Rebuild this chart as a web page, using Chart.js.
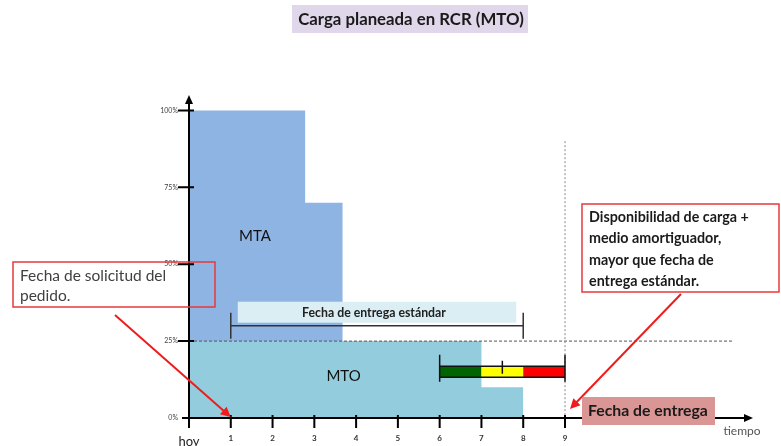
<!DOCTYPE html>
<html>
<head>
<meta charset="utf-8">
<script src="https://cdn.jsdelivr.net/npm/chart.js@4.4.1/dist/chart.umd.min.js"></script>
<style>
html,body{margin:0;padding:0;background:#ffffff;}
#wrap{width:781px;height:446px;position:relative;}
</style>
</head>
<body>
<div id="wrap"><canvas id="c" width="781" height="446"></canvas></div>
<script>
// ---- data ----
const mtaTime = [0, 2.78, 2.78, 3.68];
const mtaLoad = [100, 100, 70, 70];
const mtoTime = [0, 7, 7, 8];
const mtoLoad = [25, 25, 10, 10];
const mtoCeiling = 25;
const bufferZones = [6, 7, 8, 9];
const bufferColors = ['#006400', '#FFFF00', '#FF0000'];
const bufferMark = 7.5;
const bufferLevel = 15;
const standardLead = [1, 8];
const standardLevel = 30;
const dueDate = 9;
const xTickValues = [0, 1, 2, 3, 4, 5, 6, 7, 8, 9];
const xTickLabels = ['hoy', '1', '2', '3', '4', '5', '6', '7', '8', '9'];
const yTickValues = [0, 25, 50, 75, 100];
const yTickLabels = ['0%', '25%', '50%', '75%', '100%'];

const titleText = 'Carga planeada en RCR (MTO)';
const requestText = ['Fecha de solicitud del', 'pedido.'];
const bufferText = ['Disponibilidad de carga +', 'medio amortiguador,', 'mayor que fecha de', 'entrega estándar.'];
const dueText = 'Fecha de entrega';
const standardText = 'Fecha de entrega estándar';

const FONT = 'Lato, "Open Sans", sans-serif';

function arrow(ctx, x1, y1, x2, y2, color, w, head) {
  const a = Math.atan2(y2 - y1, x2 - x1);
  ctx.save();
  ctx.strokeStyle = color; ctx.fillStyle = color; ctx.lineWidth = w;
  ctx.beginPath(); ctx.moveTo(x1, y1);
  ctx.lineTo(x2 - Math.cos(a) * head * 0.8, y2 - Math.sin(a) * head * 0.8); ctx.stroke();
  ctx.beginPath();
  ctx.moveTo(x2, y2);
  ctx.lineTo(x2 - head * Math.cos(a) + head * 0.5 * Math.sin(a), y2 - head * Math.sin(a) - head * 0.5 * Math.cos(a));
  ctx.lineTo(x2 - head * Math.cos(a) - head * 0.5 * Math.sin(a), y2 - head * Math.sin(a) + head * 0.5 * Math.cos(a));
  ctx.closePath(); ctx.fill();
  ctx.restore();
}

const overlay = {
  id: 'overlay',
  afterDatasetsDraw(chart) {
    const ctx = chart.ctx;
    const xs = chart.scales.x, ys = chart.scales.y;
    const area = chart.chartArea;
    const X = v => xs.getPixelForValue(v);
    const Y = v => ys.getPixelForValue(v);
    ctx.save();

    // dashed 25% line
    ctx.strokeStyle = '#555'; ctx.lineWidth = 1; ctx.setLineDash([3, 2]);
    ctx.beginPath(); ctx.moveTo(area.left, Y(mtoCeiling)); ctx.lineTo(X(13), Y(mtoCeiling)); ctx.stroke();
    // due date dotted vertical
    ctx.strokeStyle = '#888'; ctx.setLineDash([2, 2]);
    ctx.beginPath(); ctx.moveTo(X(dueDate), Y(90)); ctx.lineTo(X(dueDate), Y(0)); ctx.stroke();
    ctx.setLineDash([]);

    // labels MTA / MTO
    ctx.fillStyle = '#111'; ctx.font = '15px ' + FONT; ctx.textAlign = 'center'; ctx.textBaseline = 'middle';
    ctx.fillText('MTA', X(1.58), Y(59));
    ctx.fillText('MTO', X(3.7), Y(13.5));

    // standard lead time bracket
    const by = Y(standardLevel);
    const bx1 = X(standardLead[0]), bx2 = X(standardLead[1]);
    ctx.fillStyle = '#DBEEF4';
    ctx.fillRect(bx1 + 7, by - 24, bx2 - bx1 - 14, 21);
    ctx.strokeStyle = '#333'; ctx.lineWidth = 1.5;
    ctx.beginPath();
    ctx.moveTo(bx1, by); ctx.lineTo(bx2, by);
    ctx.moveTo(bx1, by - 13); ctx.lineTo(bx1, by + 13);
    ctx.moveTo(bx2, by - 13); ctx.lineTo(bx2, by + 13);
    ctx.stroke();
    ctx.fillStyle = '#222'; ctx.font = 'bold 12.3px ' + FONT;
    ctx.fillText(standardText, (bx1 + bx2) / 2 - 3, by - 13);

    // buffer bar
    const cy = Y(bufferLevel);
    for (let i = 0; i < bufferColors.length; i++) {
      ctx.fillStyle = bufferColors[i];
      ctx.fillRect(X(bufferZones[i]), cy - 5.5, X(bufferZones[i + 1]) - X(bufferZones[i]), 11);
    }
    ctx.strokeStyle = '#111'; ctx.lineWidth = 1.5;
    ctx.beginPath();
    ctx.moveTo(X(bufferZones[0]), cy - 5.5); ctx.lineTo(X(bufferZones[3]), cy - 5.5);
    ctx.moveTo(X(bufferZones[0]), cy + 5.5); ctx.lineTo(X(bufferZones[3]), cy + 5.5);
    ctx.moveTo(X(bufferZones[0]), cy - 17); ctx.lineTo(X(bufferZones[0]), cy + 10);
    ctx.moveTo(X(bufferZones[3]), cy - 17); ctx.lineTo(X(bufferZones[3]), cy + 10);
    ctx.moveTo(X(bufferMark), cy - 11); ctx.lineTo(X(bufferMark), cy + 2);
    ctx.stroke();

    ctx.restore();
  },
  afterDraw(chart) {
    const ctx = chart.ctx;
    const xs = chart.scales.x, ys = chart.scales.y;
    const area = chart.chartArea;
    const X = v => xs.getPixelForValue(v);
    const Y = v => ys.getPixelForValue(v);
    ctx.save();
    // axes
    ctx.strokeStyle = '#000'; ctx.fillStyle = '#000'; ctx.lineWidth = 2;
    ctx.beginPath();
    ctx.moveTo(area.left, Y(0) + 10); ctx.lineTo(area.left, area.top + 8);
    ctx.moveTo(area.left - 7, Y(0)); ctx.lineTo(area.right - 8, Y(0));
    ctx.stroke();
    ctx.beginPath();
    ctx.moveTo(area.left, area.top); ctx.lineTo(area.left - 4, area.top + 9); ctx.lineTo(area.left + 4, area.top + 9); ctx.closePath(); ctx.fill();
    ctx.beginPath();
    ctx.moveTo(area.right, Y(0)); ctx.lineTo(area.right - 9, Y(0) - 4); ctx.lineTo(area.right - 9, Y(0) + 4); ctx.closePath(); ctx.fill();
    ctx.beginPath();
    yTickValues.forEach(v => { if (v > 0) { ctx.moveTo(area.left - 11, Y(v)); ctx.lineTo(area.left + 5, Y(v)); } });
    xTickValues.forEach(v => { if (v > 0) { ctx.moveTo(X(v), Y(0) - 3); ctx.lineTo(X(v), Y(0) + 10); } });
    ctx.stroke();

    // axis name
    ctx.fillStyle = '#555'; ctx.font = '12px ' + FONT; ctx.textAlign = 'center'; ctx.textBaseline = 'middle';
    ctx.fillText('tiempo', 742, 431);

    // title
    ctx.fillStyle = '#E1D7EB';
    ctx.fillRect(292, 5, 236, 28);
    ctx.fillStyle = '#1a1a1a'; ctx.font = 'bold 16.8px ' + FONT;
    ctx.fillText(titleText, 411, 20);

    // request box
    ctx.strokeStyle = '#E8383B'; ctx.lineWidth = 1.5;
    ctx.strokeRect(13, 262, 202, 45);
    ctx.fillStyle = '#404040'; ctx.font = '15.5px ' + FONT; ctx.textAlign = 'left';
    ctx.fillText(requestText[0], 20, 276);
    ctx.fillText(requestText[1], 20, 296);
    arrow(ctx, 115, 315, X(1), Y(0) - 1, '#EE1C1C', 2, 10);

    // buffer box
    ctx.strokeStyle = '#E8383B';
    ctx.strokeRect(582, 204, 197, 88);
    ctx.fillStyle = '#1a1a1a'; ctx.font = 'bold 14.3px ' + FONT;
    bufferText.forEach((t, i) => ctx.fillText(t, 589, 217 + i * 21.5));
    arrow(ctx, 681, 294, X(dueDate) + 5, Y(0) - 9, '#EE1C1C', 2, 10);

    // due date label
    ctx.fillStyle = '#D99694';
    ctx.fillRect(582, 397, 133, 28);
    ctx.fillStyle = '#1a1a1a'; ctx.font = 'bold 15.8px ' + FONT;
    ctx.fillText(dueText, 588, 411);
    ctx.restore();
  }
};

new Chart(document.getElementById('c'), {
  type: 'line',
  data: {
    datasets: [
      {
        label: 'MTO',
        data: mtoTime.map((t, i) => ({ x: t, y: mtoLoad[i] })),
        fill: 'origin',
        backgroundColor: '#93CDDD',
        borderWidth: 0,
        pointRadius: 0,
        tension: 0
      },
      {
        label: 'MTA',
        data: mtaTime.map((t, i) => ({ x: t, y: mtaLoad[i] })),
        fill: { value: mtoCeiling },
        backgroundColor: '#8EB4E3',
        borderWidth: 0,
        pointRadius: 0,
        tension: 0
      }
    ]
  },
  options: {
    responsive: false,
    animation: false,
    layout: { padding: { top: 95, right: 28, left: 0, bottom: 0 } },
    plugins: { legend: { display: false }, tooltip: { enabled: false } },
    scales: {
      x: {
        type: 'linear', min: 0, max: 13.5,
        afterBuildTicks: s => { s.ticks = xTickValues.map(v => ({ value: v })); },
        afterFit: s => { s.height = 28; },
        grid: { display: false, drawTicks: false },
        border: { display: false },
        ticks: {
          autoSkip: false, maxRotation: 0, padding: 16,
          callback: (v, i) => xTickLabels[i],
          color: ctx => ctx.index === 0 ? '#222' : '#333',
          font: ctx => ctx.index === 0 ? { family: FONT, size: 13 } : { family: FONT, size: 8, weight: 'bold' }
        }
      },
      y: {
        type: 'linear', min: 0, max: 105,
        afterBuildTicks: s => { s.ticks = yTickValues.map(v => ({ value: v })); },
        afterFit: s => { s.width = 189; },
        grid: { display: false, drawTicks: false },
        border: { display: false },
        ticks: {
          padding: 11,
          callback: (v, i) => yTickLabels[i],
          color: '#444',
          font: { family: FONT, size: 7 }
        }
      }
    }
  },
  plugins: [overlay]
});
</script>
</body>
</html>
